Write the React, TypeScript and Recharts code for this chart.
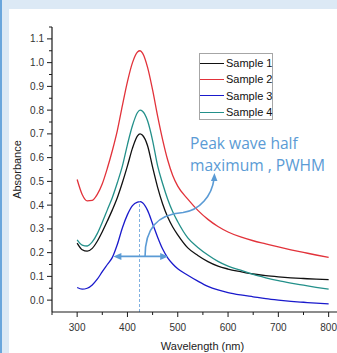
import React from "react";
import { LineChart, Line, XAxis, YAxis, Legend, ReferenceLine, Label } from "recharts";

// wavelength grid (nm) shared by all samples
const wavelengths = [
  300, 310, 320, 330, 340, 350, 360, 370, 380, 390, 400, 410, 420, 425, 430, 440, 450, 460, 470, 480,
  490, 500, 520, 540, 560, 580, 600, 625, 650, 675, 700, 725, 750, 775, 800,
];

const sample1 = [
  0.24, 0.212, 0.206, 0.218, 0.248, 0.288, 0.333, 0.38, 0.432, 0.495, 0.565, 0.64, 0.692, 0.7, 0.694,
  0.65, 0.56, 0.475, 0.405, 0.35, 0.308, 0.275, 0.22, 0.188, 0.162, 0.143, 0.131, 0.12, 0.11, 0.103,
  0.098, 0.094, 0.091, 0.088, 0.086,
];

const sample2 = [
  0.508, 0.445, 0.418, 0.42, 0.445, 0.49, 0.555, 0.63, 0.715, 0.82, 0.92, 1.0, 1.045, 1.05, 1.04,
  0.98, 0.885, 0.775, 0.675, 0.59, 0.525, 0.48, 0.425, 0.378, 0.34, 0.31, 0.287, 0.266, 0.25, 0.237,
  0.224, 0.212, 0.201, 0.19, 0.18,
];

const sample3 = [
  0.053, 0.046, 0.05, 0.064, 0.088, 0.12, 0.15, 0.18, 0.235, 0.305, 0.36, 0.398, 0.413, 0.415, 0.41,
  0.378, 0.322, 0.265, 0.215, 0.178, 0.152, 0.132, 0.105, 0.08, 0.058, 0.043, 0.032, 0.022, 0.014,
  0.006, 0.0, -0.005, -0.009, -0.013, -0.016,
];

const sample4 = [
  0.254, 0.232, 0.228, 0.245, 0.28, 0.328, 0.38, 0.432, 0.495, 0.565, 0.655, 0.735, 0.79, 0.8, 0.795,
  0.755, 0.672, 0.565, 0.49, 0.425, 0.372, 0.33, 0.262, 0.222, 0.19, 0.163, 0.143, 0.126, 0.108,
  0.094, 0.082, 0.072, 0.063, 0.054, 0.046,
];

const xTicks = [250, 300, 350, 400, 450, 500, 550, 600, 650, 700, 750, 800];
const yTicks = [
  0, 0.05, 0.1, 0.15, 0.2, 0.25, 0.3, 0.35, 0.4, 0.45, 0.5, 0.55, 0.6, 0.65, 0.7, 0.75, 0.8, 0.85, 0.9,
  0.95, 1.0, 1.05, 1.1, 1.15,
];

// annotation anchors (data coords)
const peakWavelength = 424;
const peakSample3 = 0.415;
const halfMax = 0.184;
const halfMaxLeft = 372;
const halfMaxRight = 481;
const curveStart = { x: 435, y: 0.184 };
const curveEnd = { x: 572, y: 0.535 };

const series = [
  { name: "Sample 1", values: sample1, color: "#111111" },
  { name: "Sample 2", values: sample2, color: "#e2323a" },
  { name: "Sample 3", values: sample3, color: "#1a1acc" },
  { name: "Sample 4", values: sample4, color: "#23908a" },
];

const toPoints = (vals: number[]) => wavelengths.map((wl, i) => ({ wl, v: vals[i] }));

const AXIS = "#1a1a1a";
const TICK_TEXT = "#333333";
const NOTE = "#5b9bd5";
const FONT = "'Liberation Sans', Arial, sans-serif";

const XTick = ({ x, y, payload }: any) => {
  const major = payload.value % 100 === 0;
  return (
    <g>
      <line x1={x} x2={x} y1={y} y2={y + (major ? 5 : 3)} stroke={AXIS} strokeWidth={1} />
      {major && (
        <text x={x} y={y + 19} textAnchor="middle" fontSize={10} fill={TICK_TEXT} fontFamily={FONT}>
          {payload.value}
        </text>
      )}
    </g>
  );
};

const YTick = ({ x, y, payload }: any) => {
  const v = payload.value;
  const major = Math.abs(v * 10 - Math.round(v * 10)) < 1e-6;
  return (
    <g>
      <line x1={x - (major ? 5 : 3)} x2={x} y1={y} y2={y} stroke={AXIS} strokeWidth={1} />
      {major && (
        <text x={x - 8} y={y} dy="0.35em" textAnchor="end" fontSize={10} fill={TICK_TEXT} fontFamily={FONT}>
          {v.toFixed(1)}
        </text>
      )}
    </g>
  );
};

const LegendBox = ({ payload }: any) => (
  <div
    style={{
      width: 74,
      height: 67,
      boxSizing: "border-box",
      border: "1px solid #a6a6a6",
      background: "#fff",
      paddingTop: 1,
      fontFamily: FONT,
      fontSize: 11,
      color: "#111",
      whiteSpace: "nowrap",
      overflow: "visible",
    }}
  >
    {(payload ?? []).map((p: any) => (
      <div key={p.value} style={{ display: "flex", alignItems: "center", height: 16.3 }}>
        <div style={{ width: 24, flexShrink: 0, height: 0, borderTop: `1.3px solid ${p.color}` }} />
        <span style={{ marginLeft: 2, lineHeight: "16px", flexShrink: 0 }}>{p.value}</span>
      </div>
    ))}
  </div>
);

const DoubleArrow = ({ x1, y1, x2, y2 }: any) => (
  <g>
    <line x1={x1 + 6} y1={y1} x2={x2 - 6} y2={y2} stroke={NOTE} strokeWidth={1.6} />
    <polygon points={`${x1},${y1} ${x1 + 8},${y1 - 3.5} ${x1 + 8},${y1 + 3.5}`} fill={NOTE} />
    <polygon points={`${x2},${y2} ${x2 - 8},${y2 - 3.5} ${x2 - 8},${y2 + 3.5}`} fill={NOTE} />
  </g>
);

const CurvedArrow = ({ x1, y1, x2, y2 }: any) => {
  const d = `M${x1},${y1} C${x1},${y1 - 28} ${x1 + 12},${y1 - 42} ${x1 + 38},${y1 - 44} C${x1 + 55},${
    y1 - 46
  } ${x2 - 2},${y2 + 22} ${x2},${y2 + 6}`;
  return (
    <g>
      <path d={d} fill="none" stroke={NOTE} strokeWidth={1.6} />
      <polygon points={`${x2 + 0.5},${y2} ${x2 - 3},${y2 + 8} ${x2 + 3.5},${y2 + 8}`} fill={NOTE} />
    </g>
  );
};

export default function App() {
  return (
    <div style={{ position: "relative", width: 337, height: 353, background: "#fff", overflow: "hidden" }}>
      <style>{"body{margin:0}"}</style>
      <div style={{ position: "absolute", left: 0, top: 0, width: 337, height: 9, background: "#dce9f5" }} />
      <div style={{ position: "absolute", left: 0, top: 0, width: 9, height: 353, background: "#dce9f5" }} />
      <div style={{ position: "absolute", left: 0, top: 0, width: 2, height: 353, background: "#6aa6dc" }} />

      <div style={{ position: "absolute", left: 0, top: 0 }}>
        <LineChart width={337} height={353} margin={{ top: 27, right: 0, bottom: 0, left: 0 }}>
          <XAxis
            dataKey="wl"
            type="number"
            domain={[250, 816.6]}
            ticks={xTicks}
            interval={0}
            height={41}
            tickSize={0}
            tickMargin={0}
            tickLine={false}
            tick={<XTick />}
            axisLine={{ stroke: AXIS, strokeWidth: 1.2 }}
            allowDataOverflow
          >
            <Label
              value="Wavelength (nm)"
              position="insideBottom"
              offset={3}
              dx={8}
              fontSize={11}
              fill="#222"
              fontFamily={FONT}
            />
          </XAxis>
          <YAxis
            type="number"
            domain={[-0.05, 1.15]}
            ticks={yTicks}
            interval={0}
            width={52}
            tickSize={0}
            tickMargin={0}
            tickLine={false}
            tick={<YTick />}
            axisLine={{ stroke: AXIS, strokeWidth: 1.2 }}
            allowDataOverflow
          >
            <Label
              value="Absorbance"
              angle={-90}
              position="insideLeft"
              offset={17}
              fontSize={11}
              fill="#222"
              fontFamily={FONT}
              style={{ textAnchor: "middle" }}
            />
          </YAxis>
          <Legend
            layout="horizontal"
            verticalAlign="middle"
            align="center"
            content={<LegendBox />}
            wrapperStyle={{ position: "absolute", left: 199, top: 53, width: 74, height: 67 }}
          />
          {series.map((s) => (
            <Line
              key={s.name}
              name={s.name}
              data={toPoints(s.values)}
              dataKey="v"
              type="monotone"
              stroke={s.color}
              strokeWidth={1.3}
              dot={false}
              activeDot={false}
              isAnimationActive={false}
            />
          ))}
          <ReferenceLine
            segment={[
              { x: peakWavelength, y: -0.05 },
              { x: peakWavelength, y: peakSample3 },
            ]}
            stroke="#7fb0e0"
            strokeDasharray="3 2"
            strokeWidth={1}
          />
          <ReferenceLine
            segment={[
              { x: halfMaxLeft, y: halfMax },
              { x: halfMaxRight, y: halfMax },
            ]}
            shape={<DoubleArrow />}
          />
          <ReferenceLine
            segment={[
              { x: curveStart.x, y: curveStart.y },
              { x: curveEnd.x, y: curveEnd.y },
            ]}
            shape={<CurvedArrow />}
          />
        </LineChart>
      </div>

      <div
        style={{
          position: "absolute",
          left: 190,
          top: 132,
          color: NOTE,
          fontFamily: "'Open Sans', sans-serif",
          fontSize: 15.6,
          lineHeight: "22px",
          whiteSpace: "nowrap",
        }}
      >
        <div>Peak wave half</div>
        <div>maximum , PWHM</div>
      </div>
    </div>
  );
}
